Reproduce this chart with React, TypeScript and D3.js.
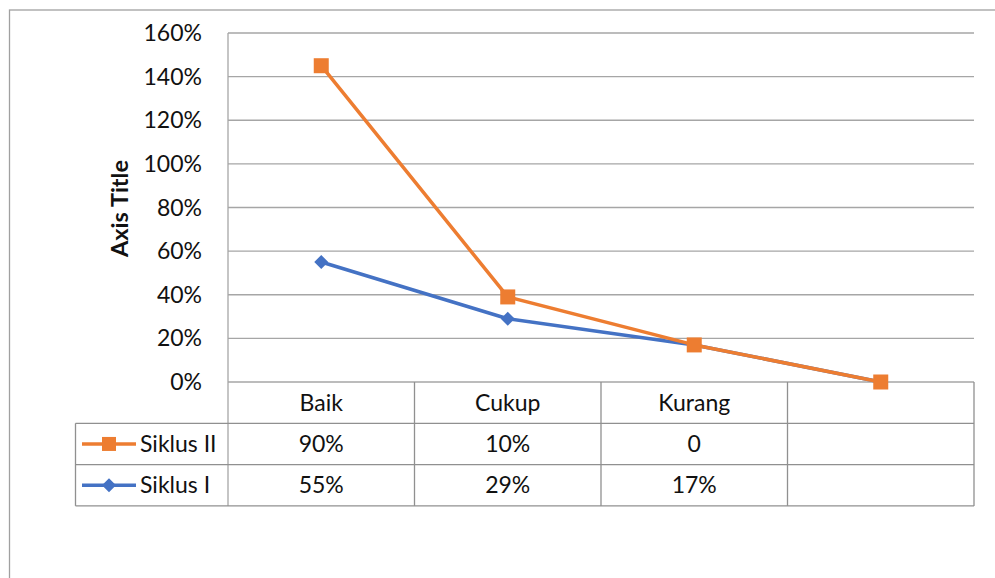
import React from "react";
import * as d3 from "d3";

// Categories along the x axis / data table columns
const categories = ["Baik", "Cukup", "Kurang", ""];
// Series values (fractions); the chart stacks Siklus II on top of Siklus I
const siklusI = [0.55, 0.29, 0.17, 0];
const siklusII = [0.9, 0.1, 0, 0];
// Cell text shown in the data table
const siklusILabels = ["55%", "29%", "17%", ""];
const siklusIILabels = ["90%", "10%", "0", ""];
// Value axis ticks
const yTicks = [0, 0.2, 0.4, 0.6, 0.8, 1.0, 1.2, 1.4, 1.6];

const W = 995;
const H = 578;
const plotLeft = 228;
const plotRight = 974;
const plotTop = 33;
const plotBottom = 382;
const rowH = 41.3;
const tableLeft = 75.5;

const ORANGE = "#ED7D31";
const BLUE = "#4472C4";
const GRID = "#A6A6A6";
const TEXT = "#111";
const FONT = "Lato, 'Open Sans', sans-serif";

export default function App() {
  const x = d3.scaleBand<string>().domain(categories.map((c, i) => String(i))).range([plotLeft, plotRight]);
  const y = d3.scaleLinear().domain([0, 1.6]).range([plotBottom, plotTop]);
  const cx = (i: number) => (x(String(i)) as number) + x.bandwidth() / 2;

  const stackedII = siklusII.map((v, i) => v + siklusI[i]);
  const line = d3
    .line<number>()
    .x((_, i) => cx(i))
    .y((v) => y(v));

  const rows = [
    { name: "Siklus II", labels: siklusIILabels, color: ORANGE, marker: "square" },
    { name: "Siklus I", labels: siklusILabels, color: BLUE, marker: "diamond" },
  ];

  const colEdges = d3.range(categories.length + 1).map((i) =>
    i < categories.length ? (x(String(i)) as number) : plotRight
  );
  const tableBottom = plotBottom + rowH * 3;

  const diamond = (px: number, py: number, r: number) =>
    `M${px},${py - r}L${px + r},${py}L${px},${py + r}L${px - r},${py}Z`;

  return (
    <svg width={W} height={H} style={{ position: "absolute", left: 0, top: 0, background: "#fff" }}>
      {/* chart frame */}
      <rect x={9.5} y={10} width={1200} height={800} fill="none" stroke="#A0A0A0" strokeWidth={1.3} />

      {/* horizontal gridlines */}
      {yTicks.map((t) => (
        <line key={t} x1={plotLeft} x2={plotRight} y1={y(t)} y2={y(t)} stroke={GRID} strokeWidth={1.3} />
      ))}
      {/* value axis line */}
      <line x1={plotLeft} x2={plotLeft} y1={plotTop} y2={tableBottom} stroke={GRID} strokeWidth={1.3} />

      {/* tick labels */}
      {yTicks.map((t) => (
        <text
          key={t}
          x={202}
          y={y(t)}
          dy="0.35em"
          textAnchor="end"
          fontFamily={FONT}
          fontSize={23}
          fill={TEXT}
        >
          {d3.format(".0%")(t)}
        </text>
      ))}

      {/* axis title */}
      <text
        transform={`translate(128,${(plotTop + plotBottom) / 2 + 1}) rotate(-90)`}
        textAnchor="middle"
        fontFamily={FONT}
        fontWeight="bold"
        fontSize={23.5}
        fill={TEXT}
      >
        Axis Title
      </text>

      {/* data table grid */}
      {[1, 2, 3].map((r) => (
        <line
          key={r}
          x1={tableLeft}
          x2={plotRight}
          y1={plotBottom + rowH * r}
          y2={plotBottom + rowH * r}
          stroke="#909090"
          strokeWidth={1.3}
        />
      ))}
      <line x1={tableLeft} x2={tableLeft} y1={plotBottom + rowH} y2={tableBottom} stroke="#909090" strokeWidth={1.3} />
      {colEdges.slice(1).map((ex, i) => (
        <line key={i} x1={ex} x2={ex} y1={plotBottom} y2={tableBottom} stroke="#909090" strokeWidth={1.3} />
      ))}

      {/* category labels */}
      {categories.map((c, i) => (
        <text
          key={i}
          x={cx(i)}
          y={plotBottom + rowH / 2}
          dy="0.35em"
          textAnchor="middle"
          fontFamily={FONT}
          fontSize={23}
          fill={TEXT}
        >
          {c}
        </text>
      ))}

      {/* table rows with legend keys */}
      {rows.map((row, r) => {
        const ry = plotBottom + rowH * (r + 1) + rowH / 2;
        return (
          <g key={row.name}>
            <line x1={82} x2={136} y1={ry} y2={ry} stroke={row.color} strokeWidth={3.5} />
            {row.marker === "square" ? (
              <rect x={109 - 7} y={ry - 7} width={14} height={14} fill={row.color} />
            ) : (
              <path d={diamond(109, ry, 7)} fill={row.color} />
            )}
            <text x={140} y={ry} dy="0.35em" fontFamily={FONT} fontSize={23} fill={TEXT}>
              {row.name}
            </text>
            {row.labels.map((l, i) => (
              <text
                key={i}
                x={cx(i)}
                y={ry}
                dy="0.35em"
                textAnchor="middle"
                fontFamily={FONT}
                fontSize={23}
                fill={TEXT}
              >
                {l}
              </text>
            ))}
          </g>
        );
      })}

      {/* Siklus I */}
      <path d={line(siklusI) as string} fill="none" stroke={BLUE} strokeWidth={3.5} strokeLinejoin="round" />
      {siklusI.map((v, i) => (
        <path key={i} d={diamond(cx(i), y(v), 7)} fill={BLUE} />
      ))}

      {/* Siklus II (stacked) */}
      <path d={line(stackedII) as string} fill="none" stroke={ORANGE} strokeWidth={3.5} strokeLinejoin="round" />
      {stackedII.map((v, i) => (
        <rect key={i} x={cx(i) - 7.5} y={y(v) - 7.5} width={15} height={15} fill={ORANGE} />
      ))}
    </svg>
  );
}
